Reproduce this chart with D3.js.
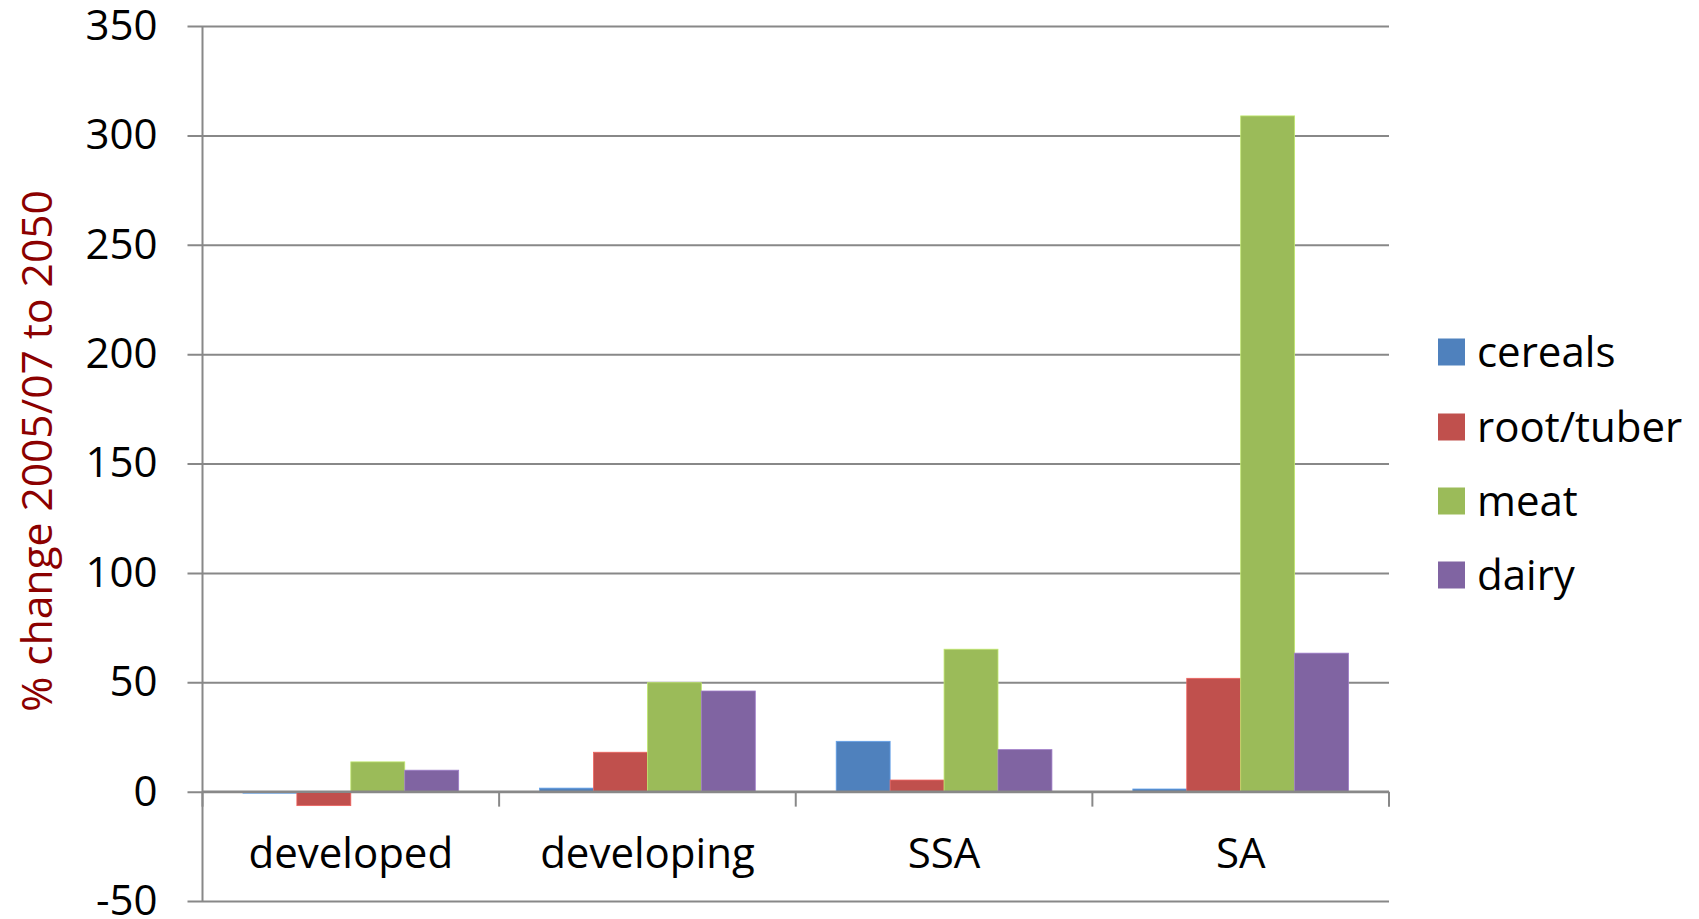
<!DOCTYPE html>
<html>
<head>
<meta charset="utf-8">
<script src="https://cdn.jsdelivr.net/npm/d3@7/dist/d3.min.js"></script>
<style>
  html, body { margin: 0; padding: 0; background: #fff; }
  svg { display: block; font-family: "Open Sans", sans-serif; }
</style>
</head>
<body>
<svg id="chart" width="1699" height="919"></svg>
<script>
// Regions and commodity groups
const regions = ["developed", "developing", "SSA", "SA"];
const commodities = ["cereals", "root/tuber", "meat", "dairy"];

// % change 2005/07 to 2050, one array per commodity (in region order)
const cereals   = [-0.7, 1.6, 23, 1.2];
const rootTuber = [-6.4, 18, 5.3, 51.8];
const meat      = [13.6, 49.8, 65.1, 308.9];
const dairy     = [9.8, 46, 19.2, 63.3];

const yTicks = [-50, 0, 50, 100, 150, 200, 250, 300, 350];
const colors = ["#4F81BD", "#C0504D", "#9BBB59", "#8064A2"];
const yTitle = "% change 2005/07 to 2050";

const seriesValues = [cereals, rootTuber, meat, dairy];

(function draw() {
  const svg = d3.select("#chart");
  const plotLeft = 202.5, plotRight = 1389, plotTop = 26, plotBottom = 901;

  const x0 = d3.scaleBand().domain(regions).range([plotLeft, plotRight]).padding(0);
  const x1 = d3.scaleBand().domain(commodities).range([0, x0.bandwidth()])
    .paddingInner(0).paddingOuter(0.75);
  const y = d3.scaleLinear().domain([-50, 350]).range([plotBottom, plotTop]);
  const color = d3.scaleOrdinal().domain(commodities).range(colors);

  const grid = "#888888";

  // Horizontal gridlines with labels (extend 15px left of the axis as tick marks)
  const yAxis = d3.axisLeft(y).tickValues(yTicks)
    .tickSizeInner(-(plotRight - (plotLeft - 15)))
    .tickSizeOuter(0)
    .tickPadding(30)
    .tickFormat(d => String(d));
  const gy = svg.append("g").attr("transform", `translate(${plotLeft - 15},0)`).call(yAxis);
  gy.select(".domain").remove();
  gy.selectAll(".tick line").attr("stroke", grid).attr("stroke-width", 2);
  gy.selectAll(".tick text")
    .attr("fill", "#000")
    .style("font-size", "42px")
    .style("font-family", "'Open Sans', sans-serif");

  // Vertical value axis line
  svg.append("line")
    .attr("x1", plotLeft).attr("x2", plotLeft)
    .attr("y1", y(350)).attr("y2", y(-50))
    .attr("stroke", grid).attr("stroke-width", 2);

  // Bars
  const rows = regions.map((r, i) => ({
    region: r,
    values: commodities.map((c, j) => ({ key: c, value: seriesValues[j][i] }))
  }));

  const groups = svg.append("g").selectAll("g").data(rows).join("g")
    .attr("transform", d => `translate(${x0(d.region)},0)`);

  groups.selectAll("rect").data(d => d.values).join("rect")
    .attr("x", d => x1(d.key))
    .attr("width", x1.bandwidth())
    .attr("y", d => y(Math.max(0, d.value)))
    .attr("height", d => Math.abs(y(d.value) - y(0)))
    .attr("fill", d => color(d.key))
    .attr("stroke", d => d3.color(color(d.key)).brighter(0.6))
    .attr("stroke-width", 0.8);

  // Category axis at zero with tick marks between regions
  const xAxisG = svg.append("g");
  xAxisG.append("line")
    .attr("x1", plotLeft).attr("x2", plotRight)
    .attr("y1", y(0)).attr("y2", y(0))
    .attr("stroke", grid).attr("stroke-width", 2.5);
  const bounds = regions.map(r => x0(r)).concat([plotRight]);
  xAxisG.selectAll("line.tickmark").data(bounds).join("line")
    .attr("class", "tickmark")
    .attr("x1", d => d).attr("x2", d => d)
    .attr("y1", y(0)).attr("y2", y(0) + 15)
    .attr("stroke", grid).attr("stroke-width", 2);

  svg.append("g").selectAll("text").data(regions).join("text")
    .attr("x", d => x0(d) + x0.bandwidth() / 2)
    .attr("y", y(0) + 60)
    .attr("text-anchor", "middle")
    .attr("dominant-baseline", "central")
    .style("font-size", "42px")
    .text(d => d);

  // Y axis title
  svg.append("text")
    .attr("transform", `translate(35,451) rotate(-90)`)
    .attr("text-anchor", "middle")
    .attr("dominant-baseline", "central")
    .attr("fill", "#8B0000")
    .style("font-size", "42.5px")
    .text(yTitle);

  // Legend
  const legend = svg.append("g").attr("transform", "translate(1438,0)");
  const legendRows = [352, 427, 501, 575];
  const li = legend.selectAll("g").data(commodities).join("g")
    .attr("transform", (d, i) => `translate(0,${legendRows[i]})`);
  li.append("rect")
    .attr("x", 0).attr("y", -13.5)
    .attr("width", 27).attr("height", 27)
    .attr("fill", d => color(d));
  li.append("text")
    .attr("x", 39).attr("y", -2)
    .attr("dominant-baseline", "central")
    .style("font-size", "42px")
    .text(d => d);
})();
</script>
</body>
</html>
